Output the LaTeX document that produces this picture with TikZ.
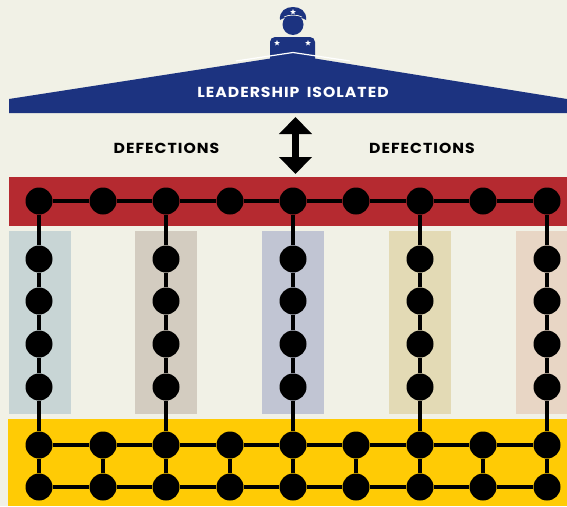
\documentclass[tikz,border=0pt]{standalone}
\usepackage{fontspec}
\setmainfont{Poppins}[LetterSpace=7,FakeStretch=1.08]
\usetikzlibrary{arrows.meta,shapes.geometric}
\definecolor{paper}{HTML}{F1F1E6}
\definecolor{navy}{HTML}{1C3380}
\definecolor{crimson}{HTML}{B52A30}
\definecolor{gold}{HTML}{FFCB05}
\begin{document}
\begin{tikzpicture}[x=1pt,y=-1pt]
  \tikzstyle{dot}=[circle,fill=black,inner sep=0pt,minimum size=27pt]
  \tikzstyle{link}=[draw=black,line width=4pt]
  \tikzstyle{tag}=[font=\fontsize{14.5pt}{16pt}\selectfont\bfseries,inner sep=0pt,anchor=base]
  \tikzstyle{badge}=[star,star points=5,star point ratio=2.4,fill=white,inner sep=0pt,minimum size=6pt]
  \fill[paper] (0,0) rectangle (567,506);
  \useasboundingbox (0,0) rectangle (567,506);
  % bands and pillars
  \fill[crimson] (9,177) rectangle (567,226);
  \fill[gold] (8,419) rectangle (567,506);
  \foreach \x/\w/\c in {9/71/C8D5D5,135/197/D3CCC0,262/324/C1C5D3,389/451/E3DAB5,516/567/E8D6C5} {
    \definecolor{pillar}{HTML}{\c}
    \fill[pillar] (\x,231) rectangle (\w,414);
  }
  % officer
  \fill[navy,rounded corners=5pt] (270,64) -- (270,37) -- (315,37) -- (315,64) -- cycle;
  \node[circle,fill=navy,inner sep=0pt,minimum size=21pt] (head) at (293,24.5) {};
  \fill[navy] (280,20) .. controls (279,11) and (286,7) .. (293,7)
    .. controls (300,7) and (307,11) .. (306,20)
    .. controls (300,16) and (286,16) .. cycle;
  \draw[paper,line width=0.7pt] (284,17) .. controls (288,14.5) and (298,14.5) .. (302,17);
  \node[badge] (capstar) at (293,12) {};
  \node[badge] (leftstar) at (277,43) {};
  \node[badge] (rightstar) at (308,43) {};
  % roof
  \fill[navy] (9,99) -- (293,55) -- (567,99) -- (567,113) -- (9,113) -- cycle;
  \draw[white,line width=1.2pt] (236,61) -- (293,52.5) -- (350,61);
  \node[tag,text=white] (leaders) at (293,97) {LEADERSHIP\hspace{3pt} ISOLATED};
  \node[tag] (defleft) at (166.5,153) {DEFECTIONS};
  \node[tag] (defright) at (422,153) {DEFECTIONS};
  \coordinate (up) at (295.5,117);
  \coordinate (down) at (295.5,174);
  \draw[{Triangle[width=32pt,length=17pt]}-{Triangle[width=32pt,length=17pt]},line width=7pt] (up) -- (down);
  % network
  \foreach \i/\x in {1/39,2/103,3/166,4/230,5/293,6/356,7/420,8/483,9/547} {
    \node[dot] (top\i) at (\x,201) {};
    \node[dot] (mid\i) at (\x,445) {};
    \node[dot] (low\i) at (\x,487) {};
    \draw[link] (mid\i) -- (low\i);
  }
  \foreach \i/\j in {1/2,2/3,3/4,4/5,5/6,6/7,7/8,8/9} {
    \draw[link] (top\i) -- (top\j);
    \draw[link] (mid\i) -- (mid\j);
    \draw[link] (low\i) -- (low\j);
  }
  \foreach \i/\x in {1/39,3/166,5/293,7/420,9/547} {
    \node[dot] (a\i) at (\x,259) {};
    \node[dot] (b\i) at (\x,301) {};
    \node[dot] (c\i) at (\x,344) {};
    \node[dot] (d\i) at (\x,387) {};
    \draw[link] (top\i) -- (a\i) -- (b\i) -- (c\i) -- (d\i) -- (mid\i);
  }
\end{tikzpicture}
\end{document}
